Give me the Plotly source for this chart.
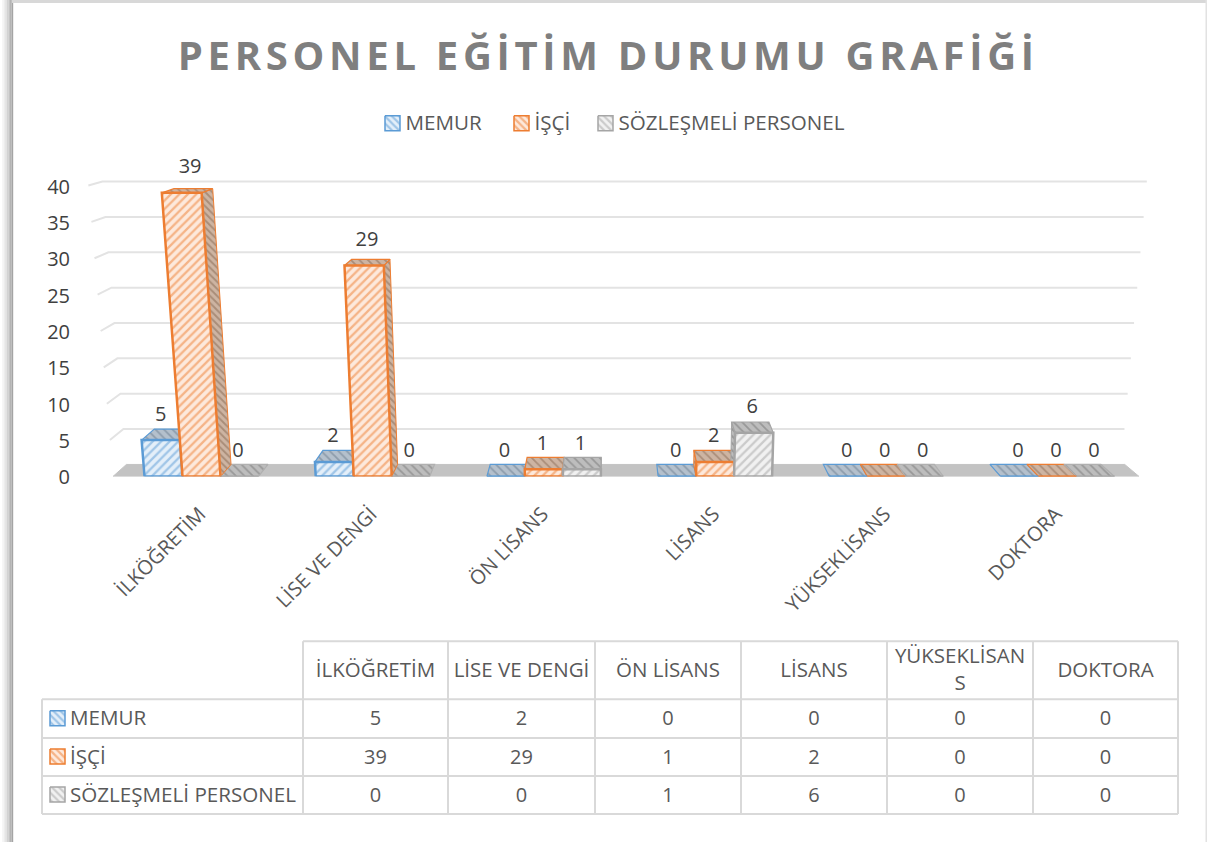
import plotly.graph_objects as go

# ---- data ----
title_text = "PERSONEL EĞİTİM DURUMU GRAFİĞİ"
categories = ["İLKÖĞRETİM", "LİSE VE DENGİ", "ÖN LİSANS", "LİSANS", "YÜKSEKLİSANS", "DOKTORA"]
table_headers = ["İLKÖĞRETİM", "LİSE VE DENGİ", "ÖN LİSANS", "LİSANS", "YÜKSEKLİSAN<br>S", "DOKTORA"]
series_names = ["MEMUR", "İŞÇİ", "SÖZLEŞMELİ PERSONEL"]
memur = [5, 2, 0, 0, 0, 0]
isci = [39, 29, 1, 2, 0, 0]
sozlesmeli = [0, 0, 1, 6, 0, 0]
y_ticks = [0, 5, 10, 15, 20, 25, 30, 35, 40]

# ---- styles ----
FONT = "Open Sans"
TXT = "#595959"
LBL = "#404040"
W, H = 1207, 843
LAYOUT_H = 856               # the page shows the figure 13 px shorter than asked
Y0, YTOP = 477, 150          # pixel rows of value 0 and top of the value axis
PXU = 7.28                   # pixels per value unit
GROUP_W, GROUP_X0 = 171.2, 199.0
BAR_W = 38.0
AX_L, AX_R = 71, 1160
XV, LEAN, DEPTH, DEPTH_Y = 610.0, 0.00124, 0.027, 12.0

styles = [
    dict(line="#5b9bd5", front_bg="#e4eff9", front_fg="#5b9bd5", dark_bg="#b4c0cc", dark_fg="#66788a"),
    dict(line="#ed7d31", front_bg="#fde9dc", front_fg="#ed7d31", dark_bg="#cdb4a2", dark_fg="#85664f"),
    dict(line="#a5a5a5", front_bg="#f1f1f1", front_fg="#a5a5a5", dark_bg="#bdbdbd", dark_fg="#737373"),
]
values = [memur, isci, sozlesmeli]


def to_u(px):
    return (px - GROUP_X0) / GROUP_W


def project(px, v, d):
    """Perspective of the 3-D chart: base pixel column, value, depth 0..1 -> axis coordinates."""
    x = px + (px - XV) * LEAN * v
    x = x + (XV - x) * DEPTH * d
    y = v + d * DEPTH_Y * (1 - v / 60.0) / PXU
    return to_u(x), y


def poly(points):
    pts = [project(*p) for p in points]
    pts.append(pts[0])
    return [p[0] for p in pts], [p[1] for p in pts]


def face(points, bg, fg, line, shape, size, solidity, width=1.5, name=None):
    xs, ys = poly(points)
    return go.Scatter(x=xs, y=ys, mode="lines", fill="toself", fillcolor=bg,
                      fillpattern=dict(shape=shape, fgcolor=fg, bgcolor=bg, size=size, solidity=solidity),
                      line=dict(color=line, width=width), hoverinfo="skip", showlegend=False,
                      cliponaxis=False, name=name or "")


fig = go.Figure()

# floor and back-wall gridlines, through the projection
FLOOR_L, FLOOR_R = 113.0, 1139.0
fig.add_trace(face([(FLOOR_L, 0, 0), (FLOOR_R, 0, 0), (FLOOR_R, 0, 1.0), (FLOOR_L, 0, 1.0)],
                   "#c3c3c3", "#c3c3c3", "#c3c3c3", "", 8, 0.1, 1))
for t in y_ticks[1:]:
    a = project(FLOOR_L, t, 0)
    b = project(FLOOR_L, t, 1)
    c = project(FLOOR_R, t, 1)
    c = (c[0] - 0.02, b[1])
    fig.add_trace(go.Scatter(x=[a[0], b[0], c[0]], y=[a[1], b[1], c[1]], mode="lines",
                             line=dict(color="#e3e3e3", width=2), hoverinfo="skip",
                             showlegend=False, cliponaxis=False))

# bars
for g in range(len(categories)):
    left0 = GROUP_X0 - 54.5 + GROUP_W * g
    items = []
    for s in range(3):
        v = values[s][g]
        items.append((v, s, left0 + BAR_W * s))
    for v, s, l in sorted(items, key=lambda t: t[0]):
        st = styles[s]
        r = l + BAR_W
        if v > 0:
            side = r if l + BAR_W / 2 < XV else l
            fig.add_trace(face([(side, 0, 0), (side, v, 0), (side, v, 1), (side, 0, 1)],
                               st["dark_bg"], st["dark_fg"], st["line"], "\\", 5, 0.4, 1))
        fig.add_trace(face([(l, v, 0), (r, v, 0), (r, v, 1), (l, v, 1)],
                           st["dark_bg"], st["dark_fg"], st["line"] if v > 0 or s != 2 else "#b0b0b0",
                           "\\", 6, 0.3, 1.2))
    for v, s, l in sorted(items, key=lambda t: t[1]):
        st = styles[s]
        r = l + BAR_W
        if v > 0:
            fig.add_trace(face([(l, 0, 0), (r, 0, 0), (r, v, 0), (l, v, 0)],
                               st["front_bg"], st["front_fg"], st["line"], "/", 6, 0.38, 2.5,
                               name=series_names[s]))
        else:
            xa, ya = project(l, 0, 0)
            xb, yb = project(r, 0, 0)
            fig.add_trace(go.Scatter(x=[xa, xb], y=[ya, yb], mode="lines",
                                     line=dict(color=st["line"], width=2), hoverinfo="skip",
                                     showlegend=False, cliponaxis=False))
    # value labels
    xs, ys, txt = [], [], []
    for v, s, l in items:
        cx = l + BAR_W / 2
        xs.append(to_u(cx + (cx - XV) * LEAN * v / 2 - 1.5))
        ys.append(v + 24.5 / PXU)
        txt.append(str(v))
    fig.add_trace(go.Scatter(x=xs, y=ys, text=txt, mode="text", textposition="middle center",
                             textfont=dict(family=FONT, size=20, color=LBL), hoverinfo="skip",
                             showlegend=False, cliponaxis=False))

# ---- overlay in page pixels: legend row and data table ----
PX = dict(xaxis="x2", yaxis="y2")
TEXT_DY = 1.5


def swatch(x, y, st):
    s = 15
    return go.Scatter(x=[x, x + s, x + s, x, x], y=[y, y, y + s, y + s, y], mode="lines", fill="toself",
                      fillcolor=st["front_bg"],
                      fillpattern=dict(shape="\\", fgcolor=st["line"], bgcolor=st["front_bg"], size=5, solidity=0.45),
                      line=dict(color=st["line"], width=1.5), hoverinfo="skip", showlegend=False, **PX)


LEG_SW_X = [385, 514, 598]
for i, st in enumerate(styles):
    fig.add_trace(swatch(LEG_SW_X[i], 116, st))
    fig.add_trace(go.Scatter(x=[LEG_SW_X[i] + 20.5], y=[123.5 + TEXT_DY], text=[series_names[i]], mode="text",
                             textposition="middle right",
                             textfont=dict(family=FONT, size=20.6, color=TXT), hoverinfo="skip",
                             showlegend=False, **PX))

COL_X = [42, 303, 448, 595, 741, 887, 1033, 1178]
ROW_Y = [642, 700, 739, 777, 815]
shapes = []
GRID = dict(color="#d9d9d9", width=2)
for i, x in enumerate(COL_X):
    top = ROW_Y[1] if i == 0 else ROW_Y[0]
    shapes.append(dict(type="line", xref="x2", yref="y2", x0=x, x1=x, y0=top, y1=ROW_Y[-1], line=GRID, layer="below"))
for j, y in enumerate(ROW_Y):
    left = COL_X[1] if j == 0 else COL_X[0]
    shapes.append(dict(type="line", xref="x2", yref="y2", x0=left, x1=COL_X[-1], y0=y, y1=y, line=GRID, layer="below"))

centers = [(COL_X[i + 1] + COL_X[i + 2]) / 2 for i in range(6)]
fig.add_trace(go.Scatter(x=centers, y=[(ROW_Y[0] + ROW_Y[1]) / 2 + TEXT_DY] * 6, text=table_headers, mode="text",
                         textposition="middle center", textfont=dict(family=FONT, size=20.5, color=TXT),
                         hoverinfo="skip", showlegend=False, **PX))
for r, st in enumerate(styles):
    yc = (ROW_Y[r + 1] + ROW_Y[r + 2]) / 2
    fig.add_trace(swatch(50, yc - 8, st))
    fig.add_trace(go.Scatter(x=[70], y=[yc + TEXT_DY], text=[series_names[r]], mode="text", textposition="middle right",
                             textfont=dict(family=FONT, size=20.6, color=TXT), hoverinfo="skip",
                             showlegend=False, **PX))
    fig.add_trace(go.Scatter(x=centers, y=[yc + TEXT_DY] * 6, text=[str(v) for v in values[r]], mode="text",
                             textposition="middle center", textfont=dict(family=FONT, size=20, color=TXT),
                             hoverinfo="skip", showlegend=False, **PX))

# page frame: shadow strip on the left, band on top, hairline on the right
greys = ["#f6f6f6", "#ececec", "#e0e0e0", "#d2d2d2", "#c4c4c4", "#b4b4b4", "#a4a4a4"]
for i, c in enumerate(greys):
    shapes.append(dict(type="rect", xref="paper", yref="paper", x0=(2 + i * 1.6) / W, x1=(3.6 + i * 1.6) / W,
                       y0=0, y1=1, fillcolor=c, line=dict(width=0), layer="below"))
shapes.append(dict(type="rect", xref="paper", yref="paper", x0=12 / W, x1=1, y0=1 - 3 / H, y1=1,
                   fillcolor="#d8d8d8", line=dict(width=0), layer="below"))
shapes.append(dict(type="rect", xref="paper", yref="paper", x0=1205.5 / W, x1=1, y0=0, y1=1,
                   fillcolor="#e2e2e2", line=dict(width=0), layer="below"))

fig.update_layout(
    width=W, height=LAYOUT_H, margin=dict(l=0, r=0, t=0, b=0), autosize=False,
    paper_bgcolor="white", plot_bgcolor="rgba(0,0,0,0)", showlegend=False, shapes=shapes,
    title=dict(text=title_text, x=0.504, xanchor="center", y=1 - 55 / H, yanchor="middle",
               font=dict(family=FONT, size=40, color="#7f7f7f", weight="bold")),
    xaxis=dict(domain=[AX_L / W, AX_R / W], range=[to_u(AX_L), to_u(AX_R)], tickmode="array",
               tickvals=list(range(len(categories))), ticktext=categories, tickangle=-45,
               showgrid=False, zeroline=False, showline=False, ticks="", anchor="y",
               ticklabelstandoff=21, ticklabelshift=1,
               tickfont=dict(family=FONT, size=20, color=TXT)),
    yaxis=dict(domain=[1 - Y0 / H, 1 - YTOP / H], range=[0, (Y0 - YTOP) / PXU], tickmode="array",
               tickvals=y_ticks, ticktext=[str(t) for t in y_ticks], showgrid=False, zeroline=False,
               showline=False, ticks="", anchor="x", ticklabelshift=1,
               tickfont=dict(family=FONT, size=20, color=LBL)),
    xaxis2=dict(domain=[0, 1], range=[0, W], visible=False, anchor="y2"),
    yaxis2=dict(domain=[0, 1], range=[H, 0], visible=False, anchor="x2"),
)

fig.write_html("out.html", config=dict(displayModeBar=False), post_script="""
document.documentElement.style.overflow = 'hidden';
document.body.style.margin = '0';
var t = document.querySelector('.gtitle');
if (t) { t.style.letterSpacing = '4.7px'; }
""")
